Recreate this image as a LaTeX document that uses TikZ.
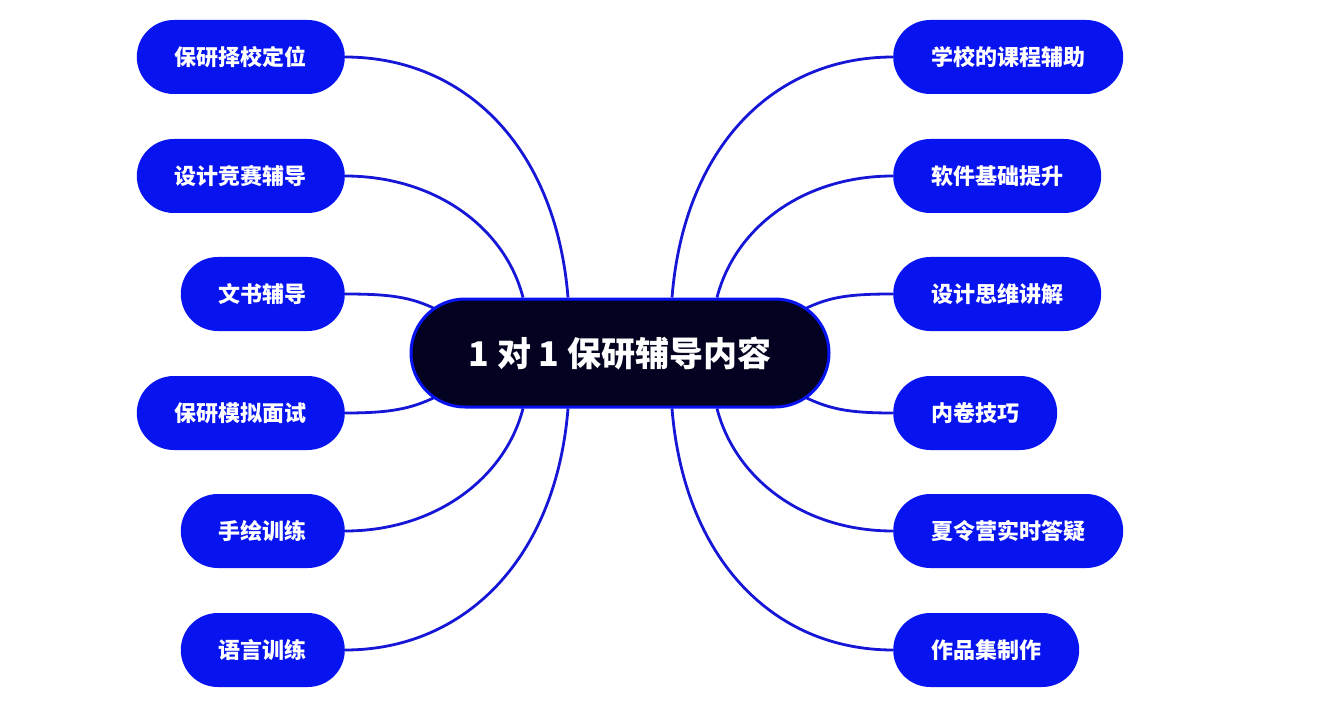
\documentclass[tikz,border=0pt]{standalone}
\usepackage{fontspec}
\newfontfamily\cjk{Noto Sans CJK SC}
\usetikzlibrary{calc,backgrounds}
\definecolor{leafblue}{RGB}{8,20,240}
\definecolor{linkblue}{RGB}{22,22,215}
\definecolor{navy}{RGB}{3,2,32}
\begin{document}
\begin{tikzpicture}[x=1pt,y=-1pt,
  leaf/.style={rectangle, rounded corners=37pt, fill=leafblue, text=white,
    minimum height=74pt, inner xsep=38pt, inner ysep=0pt,
    font=\cjk\bfseries\fontsize{22}{25}\selectfont},
  hub/.style={rectangle, rounded corners=54pt, fill=navy, draw=leafblue, line width=3pt,
    text=white, minimum width=418pt, minimum height=108pt,
    font=\cjk\bfseries\fontsize{34}{38}\selectfont},
  link/.style={draw=linkblue, line width=2.8pt}]
\useasboundingbox (0,0) rectangle (1335,711);
\node[hub] (c) at (620,353) {1 对 1 保研辅导内容};
% left leaves
\node[leaf, anchor=east] (l1) at (345,57) {保研择校定位};
\node[leaf, anchor=east] (l2) at (345,176) {设计竞赛辅导};
\node[leaf, anchor=east] (l3) at (345,294) {文书辅导};
\node[leaf, anchor=east] (l4) at (345,413) {保研模拟面试};
\node[leaf, anchor=east] (l5) at (345,531) {手绘训练};
\node[leaf, anchor=east] (l6) at (345,650) {语言训练};
% right leaves
\node[leaf, anchor=west] (r1) at (893,57) {学校的课程辅助};
\node[leaf, anchor=west] (r2) at (893,176) {软件基础提升};
\node[leaf, anchor=west] (r3) at (893,294) {设计思维讲解};
\node[leaf, anchor=west] (r4) at (893,413) {内卷技巧};
\node[leaf, anchor=west] (r5) at (893,531) {夏令营实时答疑};
\node[leaf, anchor=west] (r6) at (893,650) {作品集制作};
\begin{scope}[on background layer]
  \coordinate (cl1) at ($(c.north)+(-52,0)$);
  \coordinate (cl2) at ($(c.north)+(-97,0)$);
  \coordinate (cl3) at ($(c.west)+(26,-44)$);
  \coordinate (cl4) at ($(c.west)+(26,44)$);
  \coordinate (cl5) at ($(c.south)+(-97,0)$);
  \coordinate (cl6) at ($(c.south)+(-52,0)$);
  \coordinate (cr1) at ($(c.north)+(52,0)$);
  \coordinate (cr2) at ($(c.north)+(97,0)$);
  \coordinate (cr3) at ($(c.east)+(-26,-44)$);
  \coordinate (cr4) at ($(c.east)+(-26,44)$);
  \coordinate (cr5) at ($(c.south)+(97,0)$);
  \coordinate (cr6) at ($(c.south)+(52,0)$);
  \draw[link] (l1.east) .. controls +(120,0) and +(-12,-150) .. (cl1);
  \draw[link] (l2.east) .. controls +(90,0) and +(-18,-70) .. (cl2);
  \draw[link] (l3.east) .. controls +(45,0) and +(-25,-12) .. (cl3);
  \draw[link] (l4.east) .. controls +(45,0) and +(-25,12) .. (cl4);
  \draw[link] (l5.east) .. controls +(90,0) and +(-18,70) .. (cl5);
  \draw[link] (l6.east) .. controls +(120,0) and +(-12,150) .. (cl6);
  \draw[link] (r1.west) .. controls +(-120,0) and +(12,-150) .. (cr1);
  \draw[link] (r2.west) .. controls +(-90,0) and +(18,-70) .. (cr2);
  \draw[link] (r3.west) .. controls +(-45,0) and +(25,-12) .. (cr3);
  \draw[link] (r4.west) .. controls +(-45,0) and +(25,12) .. (cr4);
  \draw[link] (r5.west) .. controls +(-90,0) and +(18,70) .. (cr5);
  \draw[link] (r6.west) .. controls +(-120,0) and +(12,150) .. (cr6);
\end{scope}
\end{tikzpicture}
\end{document}
